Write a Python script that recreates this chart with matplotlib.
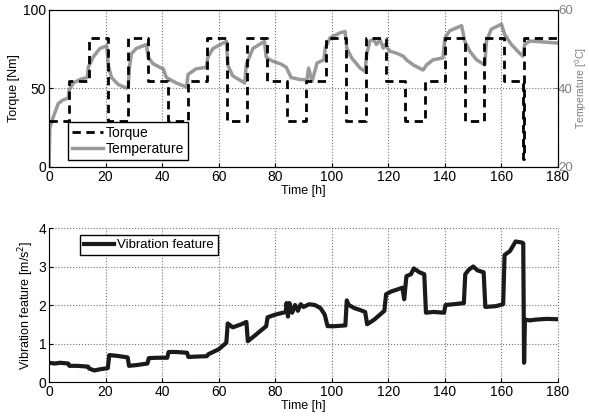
import numpy as np
import matplotlib
matplotlib.use("Agg")
import matplotlib.pyplot as plt

plt.rcParams['font.family'] = ['Liberation Sans', 'DejaVu Sans']
plt.rcParams['font.size'] = 10

# torque steps: change times [h] and level [Nm]
torque_t = [0, 7, 14, 21, 28, 35, 42, 49, 56, 63, 70, 77, 84, 91, 98, 105, 112, 119,
            126, 133, 140, 147, 154, 161, 167.6, 168.1, 180]
torque_v = [29, 55, 82, 29, 82, 55, 29, 55, 82, 29, 82, 55, 29, 55, 82, 29, 82, 55,
            29, 55, 82, 29, 82, 55, 5, 82, 82]

# temperature [degC]
temp_t = [0, 0.3, 1.5, 3.3, 5, 6.8, 7.1, 8.6, 11, 13.5, 13.9, 15.6, 18, 20.4, 21, 22.1,
          24.5, 27.4, 28, 28.5, 29.2, 30.9, 34.5, 35, 36.8, 39.2, 40.4, 41.5, 45, 48.6,
          49.2, 52, 55.6, 56.2, 58, 62.7, 63.3, 65, 69.2, 69.8, 72.1, 76.2, 76.8, 78.6,
          82.1, 83.9, 85.6, 88.6, 91.2, 91.8, 93, 94.8, 97.2, 97.7, 99.4, 103, 104.7,
          105.3, 107, 110, 111.8, 112.3, 113.5, 114.7, 115.8, 117, 118.2, 118.8, 120.5,
          122.9, 125.3, 126.4, 128.8, 132.3, 133.5, 135.8, 139.3, 140, 141.7, 145.9, 147,
          148.8, 151.2, 154.1, 154.7, 156.4, 160, 161.1, 163.5, 166.4, 167.6, 168.2, 170,
          179.4, 180]
temp_v = [20, 30, 32.7, 36.2, 37.1, 37.5, 39.6, 41.4, 42.3, 42.8, 45.4, 48, 50.2, 50.9,
          45.8, 42.8, 41, 40.1, 40.5, 45.8, 48.9, 50.2, 51.2, 48, 46.3, 45.4, 45, 42.8,
          41.4, 40.4, 43.6, 45, 45.4, 48, 50.2, 52, 45.8, 43.2, 41.4, 46.2, 50.2, 52,
          48, 47.1, 46.2, 45.4, 42.8, 42.3, 42.2, 45.2, 41.8, 46.5, 47.3, 50.3, 52.9,
          54.2, 54.5, 50.3, 47.8, 45.2, 44.3, 48.6, 52.1, 52.5, 51.2, 52.5, 50.3, 51.2,
          49.5, 49, 48.2, 47.3, 46, 44.7, 46, 47.3, 47.8, 52.9, 54.7, 56, 52.1, 49.5,
          47.3, 46, 52.1, 55.1, 56.4, 53.8, 51.2, 49, 48.2, 51.2, 52.1, 51.6, 51.6]

# vibration feature [m/s^2]
vib_t = [0, 2, 4, 6.8, 7.2, 10, 13.8, 14.2, 16, 18, 20.8, 21.3, 24, 27.8, 28.3, 31, 34.8,
         35.3, 38, 41.8, 42.3, 45, 48.8, 49.3, 52, 55.8, 56.3, 60, 62.7, 63.2, 65, 68,
         69.8, 70.3, 73, 76.8, 77.3, 80, 83.8, 84, 84.5, 85, 86, 87, 88, 89, 90, 92, 94,
         96, 97.5, 98.5, 101, 104.8, 105.3, 106, 108, 110, 111.8, 112.5, 115, 118.6,
         119.2, 121, 123, 125, 125.6, 126.4, 128, 129, 131, 132.7, 133.3, 136, 139.7,
         140.2, 143, 146.7, 147.2, 148.5, 150, 151.5, 153.7, 154.3, 158, 160.6, 161.1,
         163, 165, 167.4, 167.7, 168.0, 168.3, 170, 172, 176, 180]
vib_v = [0.5, 0.48, 0.5, 0.48, 0.42, 0.42, 0.4, 0.35, 0.3, 0.33, 0.36, 0.7, 0.68, 0.64,
         0.42, 0.44, 0.48, 0.62, 0.63, 0.63, 0.78, 0.78, 0.76, 0.65, 0.66, 0.67, 0.72,
         0.85, 1.02, 1.52, 1.42, 1.5, 1.56, 1.06, 1.22, 1.45, 1.68, 1.75, 1.82, 2.05,
         1.7, 2.05, 1.8, 2.0, 1.85, 2.02, 1.95, 2.02, 2.0, 1.92, 1.75, 1.45, 1.45, 1.47,
         2.12, 2.0, 1.92, 1.87, 1.82, 1.5, 1.62, 1.85, 2.28, 2.35, 2.4, 2.45, 2.15, 2.75,
         2.8, 2.95, 2.85, 2.8, 1.8, 1.82, 1.8, 2.0, 2.02, 2.05, 2.8, 2.92, 3.0, 2.9,
         2.85, 1.95, 1.97, 2.02, 3.3, 3.4, 3.65, 3.62, 3.6, 0.5, 1.62, 1.6, 1.62, 1.64,
         1.63]

fig = plt.figure(figsize=(5.89, 4.16), dpi=100)

# ---- top panel: torque + temperature
ax1 = fig.add_axes([0.0832, 0.5986, 0.8642, 0.3774])
ln1, = ax1.plot(torque_t, torque_v, color='black', ls='--', lw=2, dashes=(3, 2),
                drawstyle='steps-post', label='Torque')
ax1.set_xlim(0, 180)
ax1.set_ylim(0, 100)
ax1.set_xticks(np.arange(0, 181, 20))
ax1.set_yticks([0, 50, 100])
ax1.set_ylabel('Torque [Nm]', fontsize=9, labelpad=2)
ax1.set_xlabel('Time [h]', fontsize=9, labelpad=1)
ax1.grid(True, ls=':', color='0.45', lw=0.8)
ax1.tick_params(direction='in', length=3, pad=2)

ax2 = ax1.twinx()
ln2, = ax2.plot(temp_t, temp_v, color='0.6', lw=2.5, label='Temperature')
ax2.set_ylim(20, 60)
ax2.set_yticks([20, 40, 60])
ax2.tick_params(direction='in', length=3, colors='0.5', pad=0, labelsize=9.5)
ax2.set_ylabel('Temperature [$^0$C]', color='0.5', fontsize=7.5)
ax2.yaxis.set_label_coords(1.029, 0.5)

leg = ax1.legend(handles=[ln1, ln2], loc='lower left', bbox_to_anchor=(0.037, 0.045),
                 borderaxespad=0, fontsize=10, handlelength=2.2, handletextpad=0.2,
                 borderpad=0.3, labelspacing=0.15, fancybox=False, framealpha=1,
                 edgecolor='black')
leg.get_frame().set_linewidth(1.0)
ax1.set_zorder(ax2.get_zorder() + 1)
ax1.patch.set_visible(False)

# ---- bottom panel: vibration
ax3 = fig.add_axes([0.0832, 0.0817, 0.8642, 0.3702])
ax3.plot(vib_t, vib_v, color='#1a1a1a', lw=3, label='Vibration feature')
ax3.set_xlim(0, 180)
ax3.set_ylim(0, 4)
ax3.set_xticks(np.arange(0, 181, 20))
ax3.set_yticks([0, 1, 2, 3, 4])
ax3.set_ylabel('Vibration feature [m/s$^2$]', fontsize=9, labelpad=2)
ax3.set_xlabel('Time [h]', fontsize=9, labelpad=1)
ax3.grid(True, ls=':', color='0.45', lw=0.8)
for gl in ax3.get_xgridlines() + ax3.get_ygridlines():
    gl.set_clip_on(False)
ax3.spines['top'].set_visible(False)
ax3.spines['right'].set_visible(False)
ax3.tick_params(direction='in', length=3, pad=2)
leg3 = ax3.legend(loc='upper left', bbox_to_anchor=(0.061, 0.955), borderaxespad=0,
                  fontsize=9.5, handlelength=2.3, handletextpad=0.2, borderpad=0.3,
                  fancybox=False, framealpha=1, edgecolor='black')
leg3.get_frame().set_linewidth(1.0)

fig.savefig('out.png', dpi=100)
